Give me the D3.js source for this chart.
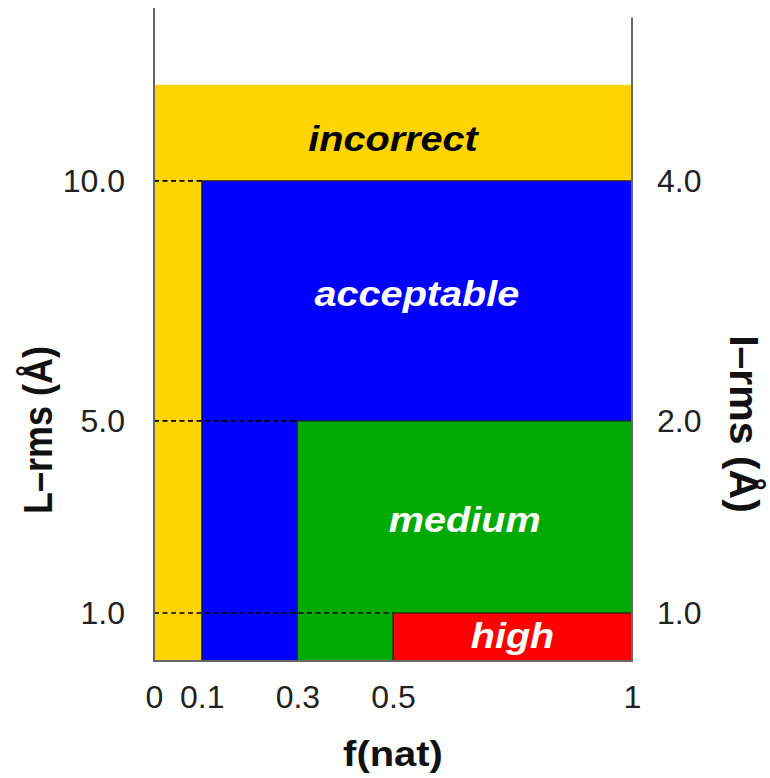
<!DOCTYPE html>
<html>
<head>
<meta charset="utf-8">
<script src="https://cdn.jsdelivr.net/npm/d3@7"></script>
<style>
  html, body { margin: 0; padding: 0; background: #fff; }
  svg { display: block; font-family: "Liberation Sans", Arial, Helvetica, sans-serif; }
</style>
</head>
<body>
<svg id="chart" width="770" height="778"></svg>
<script>
// ---- data ----
const categories   = ["incorrect", "acceptable", "medium", "high"];
const fnatMin      = [0, 0.1, 0.3, 0.5];
const lrmsMax      = [12, 10, 5, 1];
const fillColors   = ["#FFD400", "#0000FF", "#00AA00", "#FF0000"];
const labelColors  = ["#000000", "#ffffff", "#ffffff", "#ffffff"];
const xTicks       = [0, 0.1, 0.3, 0.5, 1];
const xTickLabels  = ["0", "0.1", "0.3", "0.5", "1"];
const leftTicks    = [10, 5, 1];
const leftLabels   = ["10.0", "5.0", "1.0"];
const rightLabels  = ["4.0", "2.0", "1.0"];
const dashEndFnat  = [0.1, 0.3, 0.5];

const svg = d3.select("#chart");
const x = d3.scaleLinear().domain([0, 1]).range([154, 632]);
const y = d3.scaleLinear().domain([0, 13.6]).range([661, 8]);

const regions = categories.map((c, i) => ({name: c, x0: fnatMin[i], ymax: lrmsMax[i], fill: fillColors[i], lc: labelColors[i]}));

// regions
svg.append("g").selectAll("rect").data(regions).join("rect")
  .attr("x", d => x(d.x0))
  .attr("y", d => y(d.ymax))
  .attr("width", d => x(1) - x(d.x0))
  .attr("height", d => y(0) - y(d.ymax))
  .attr("fill", d => d.fill)
  .attr("stroke", (d, i) => i === 0 ? "none" : "#222")
  .attr("stroke-width", 1.2);

// dashed guide lines
svg.append("g").selectAll("line").data(leftTicks).join("line")
  .attr("x1", x(0)).attr("x2", (d, i) => x(dashEndFnat[i]))
  .attr("y1", d => y(d)).attr("y2", d => y(d))
  .attr("stroke", "#000").attr("stroke-width", 1.7)
  .attr("stroke-dasharray", "5,3.5");

// region labels (style nudges in px)
const labelNudge = [6, -7, 2, -2];
svg.append("g").selectAll("text").data(regions).join("text")
  .attr("transform", (d, i) => {
    const lower = i < regions.length - 1 ? regions[i + 1].ymax : 0;
    const cx = (x(d.x0) + x(1)) / 2;
    const cy = y((d.ymax + lower) / 2) + 12.6 + labelNudge[i];
    return `translate(${cx},${cy}) scale(1.1,1)`;
  })
  .attr("text-anchor", "middle")
  .attr("fill", d => d.lc)
  .attr("font-size", 36)
  .attr("font-weight", "bold")
  .attr("font-style", "italic")
  .text(d => d.name);

// axes
const axisStyle = g => {
  g.select(".domain").remove();
  g.selectAll(".tick line").remove();
  g.selectAll(".tick text").attr("fill", "#222").attr("font-size", 32)
    .attr("font-family", "'Liberation Sans', Arial, sans-serif");
};

svg.append("g").attr("transform", `translate(${x(0) - 29},0)`)
  .call(d3.axisLeft(y).tickValues(leftTicks).tickSize(0).tickPadding(0)
    .tickFormat((d, i) => leftLabels[i]))
  .call(axisStyle);

svg.append("g").attr("transform", `translate(${x(1) + 25},0)`)
  .call(d3.axisRight(y).tickValues(leftTicks).tickSize(0).tickPadding(0)
    .tickFormat((d, i) => rightLabels[i]))
  .call(axisStyle);

svg.append("g").attr("transform", `translate(0,${y(0) + 24})`)
  .call(d3.axisBottom(x).tickValues(xTicks).tickSize(0).tickPadding(0)
    .tickFormat((d, i) => xTickLabels[i]))
  .call(axisStyle)
  .selectAll(".tick text").attr("dy", "0.71em");

// frame lines
const frame = svg.append("g").attr("stroke", "#666").attr("stroke-width", 2);
frame.append("line").attr("x1", x(0)).attr("x2", x(0)).attr("y1", y(13.6)).attr("y2", y(0));
frame.append("line").attr("x1", x(1)).attr("x2", x(1)).attr("y1", y(13.4)).attr("y2", y(0));
frame.append("line").attr("x1", x(0) - 1).attr("x2", x(1) + 1).attr("y1", y(0)).attr("y2", y(0));

// axis titles
svg.append("text")
  .attr("transform", `translate(${x(0.5)},766) scale(1.11,1)`)
  .attr("text-anchor", "middle").attr("font-size", 36).attr("font-weight", "bold").attr("fill", "#111")
  .text("f(nat)");

svg.append("text")
  .attr("transform", `translate(52,430) rotate(-90) scale(1,1.12)`)
  .attr("text-anchor", "middle").attr("font-size", 36).attr("font-weight", "bold").attr("fill", "#111")
  .text("L–rms (Å)");

svg.append("text")
  .attr("transform", `translate(730,424) rotate(90)`)
  .attr("text-anchor", "middle").attr("font-size", 41).attr("font-weight", "bold").attr("fill", "#111")
  .text("I–rms (Å)");
</script>
</body>
</html>
